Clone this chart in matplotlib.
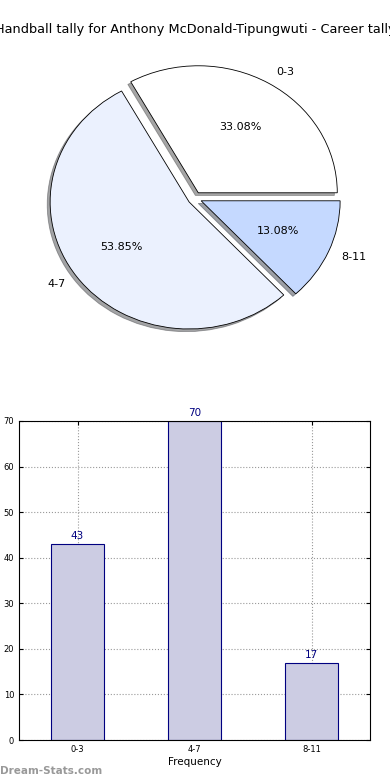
import matplotlib
matplotlib.use('Agg')
import matplotlib.pyplot as plt

# data
categories = ['0-3', '4-7', '8-11']
counts = [43, 70, 17]
pie_colors = ['#FFFFFF', '#EBF1FE', '#C5D9FF']
title = 'Handball tally for Anthony McDonald-Tipungwuti - Career tally'

fig = plt.figure(figsize=(3.9, 7.8), dpi=100)
fig.text(0.5, 1 - 30/780, title, ha='center', va='center', fontsize=9.3)

# pie (old-style, not forced round)
ax1 = fig.add_axes([21/390, 423/780, 347.5/390, 317.5/780])
wedges, texts, autotexts = ax1.pie(counts, labels=categories, colors=pie_colors,
                                   explode=[0.05] * len(counts), autopct='%.2f%%',
                                   shadow=dict(ox=-0.015, oy=-0.015), startangle=0,
                                   pctdistance=0.6,
                                   wedgeprops=dict(edgecolor='black', linewidth=0.6),
                                   textprops=dict(fontsize=8))
ax1.set_aspect('auto')
ax1.set_xlim(-1.25, 1.25)
ax1.set_ylim(-1.25, 1.25)

# bars
ax2 = fig.add_axes([19/390, 40/780, 351/390, 319/780])
x = range(len(categories))
bars = ax2.bar(x, counts, width=0.45, color='#CCCCE3', edgecolor='navy', linewidth=0.8, zorder=2)
for xi, v in zip(x, counts):
    ax2.text(xi, v + 0.6, str(v), ha='center', va='bottom', color='navy', fontsize=7.5)
ax2.set_xlim(-0.5, 2.5)
ax2.set_ylim(0, 70)
ax2.set_xticks(list(x))
ax2.set_xticklabels(categories)
ax2.set_yticks(range(0, 71, 10))
ax2.tick_params(labelsize=6, direction='in', top=True, right=True, length=3)
ax2.grid(True, linestyle=':', color='#999999', linewidth=0.8, zorder=0)
ax2.set_axisbelow(True)
ax2.set_xlabel('Frequency', fontsize=7.5, labelpad=2)
for s in ax2.spines.values():
    s.set_linewidth(0.8)

fig.text(0.0, 1 - 771/780, 'Dream-Stats.com', ha='left', va='center', fontsize=7.5,
         color='#999999', fontweight='bold')

fig.savefig('out.png', dpi=100)
